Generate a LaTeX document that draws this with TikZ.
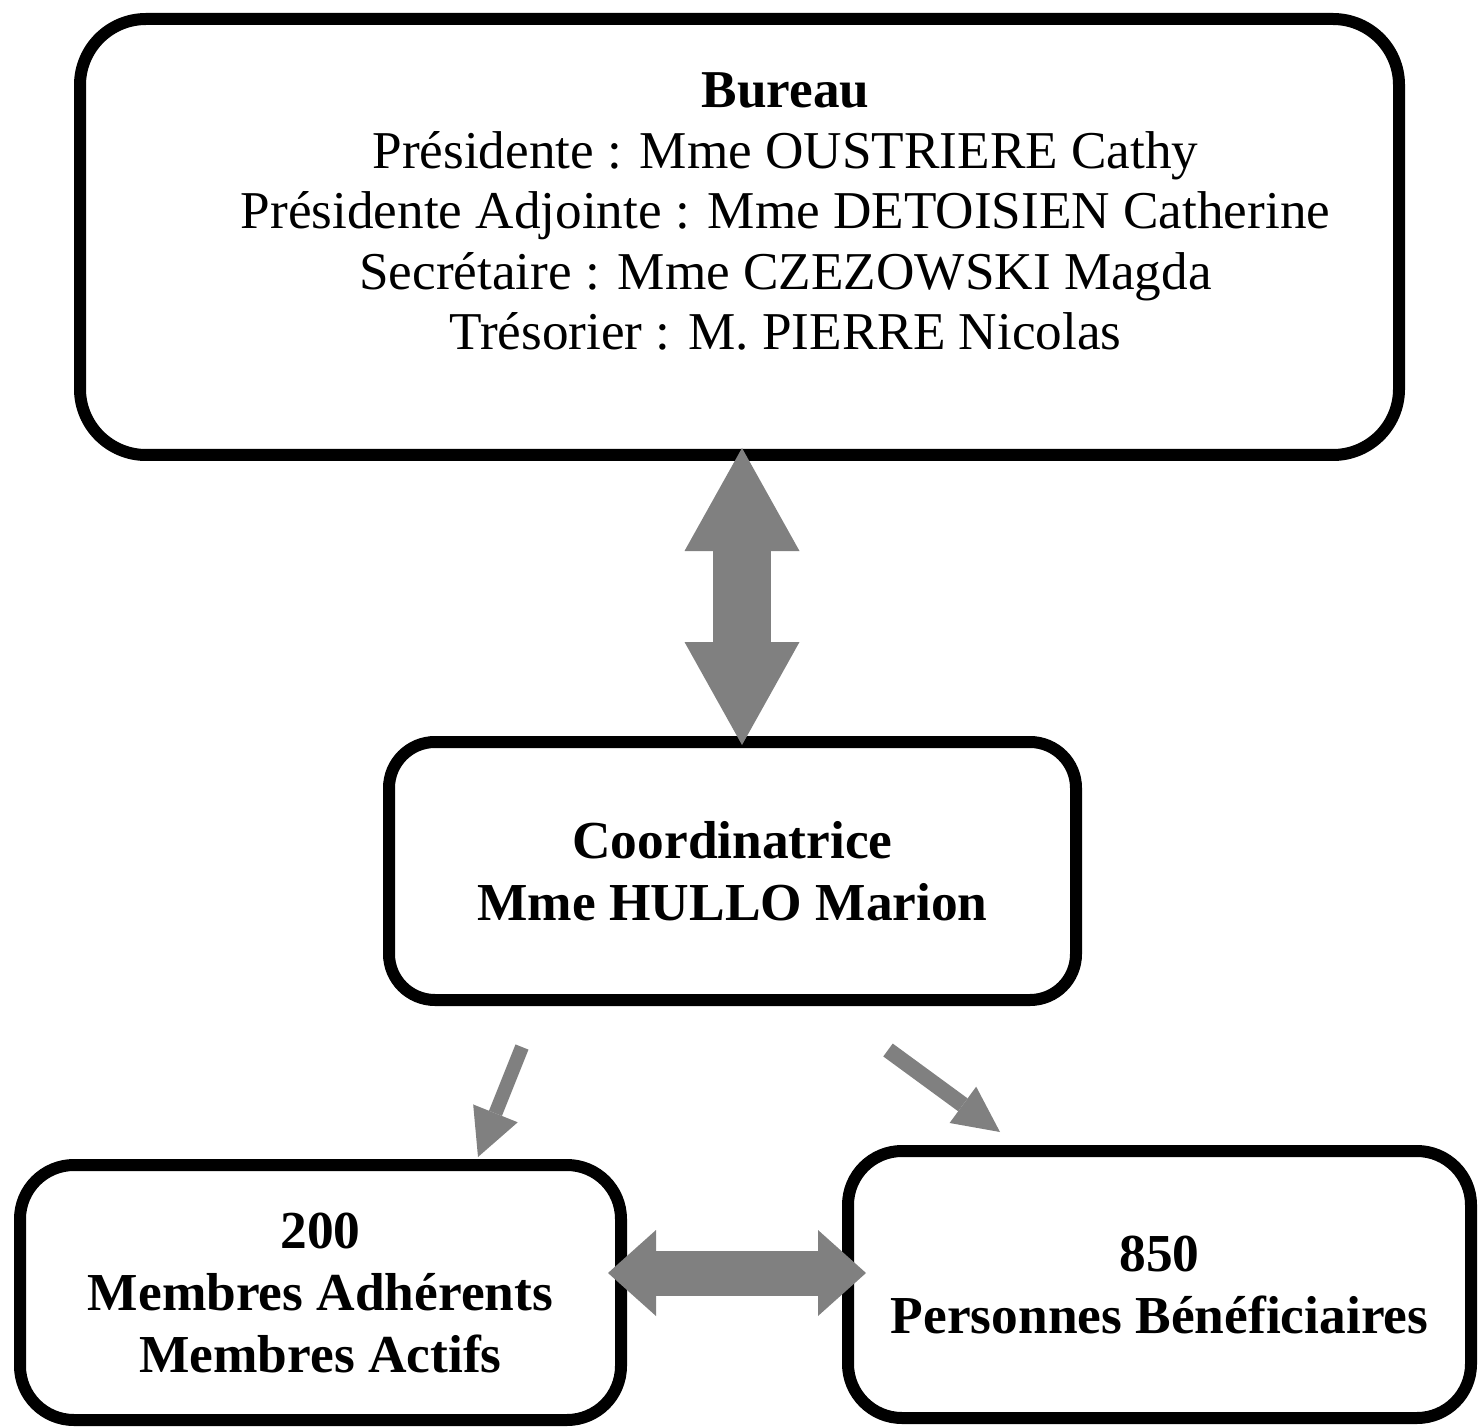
\documentclass[tikz,border=0pt]{standalone}
\usepackage{fontspec}
\setmainfont{Liberation Serif}
\usetikzlibrary{arrows.meta,calc}

\begin{document}
\begin{tikzpicture}[
    x=0.5pt, y=-0.5pt,
    org box/.style={draw=black,line width=6pt,fill=white,inner sep=0pt},
    top text/.style={align=center,font=\fontsize{26.6pt}{30.25pt}\selectfont},
    bold text/.style={align=center,font=\fontsize{26.7pt}{31pt}\selectfont\bfseries},
    big arrow/.style={draw=gray,line width=29pt,{Triangle[length=51.5pt,width=57.5pt,line width=0pt]}-{Triangle[length=51.5pt,width=57.5pt,line width=0pt]}},
    side arrow/.style={draw=gray,line width=22.5pt,{Triangle[length=24pt,width=43pt,line width=0pt]}-{Triangle[length=24pt,width=43pt,line width=0pt]}},
    left arrow/.style={draw=gray,line width=7pt,-{Triangle[length=23.5pt,width=24pt,line width=0pt]}},
    right arrow/.style={draw=gray,line width=8pt,-{Triangle[length=23pt,width=22.5pt,line width=0pt]}}
]
\useasboundingbox (0,0) rectangle (1483,1428);

% Bureau
\node[org box,rounded corners=33pt,minimum width=659.5pt,minimum height=218pt] (bureau) at (739.5,237) {};
\node[top text] (bureaulines) at ([xshift=23pt,yshift=12.75pt]bureau.center)
    {\textbf{Bureau}\\
     Présidente : Mme OUSTRIERE Cathy\\
     Présidente Adjointe : Mme DETOISIEN Catherine\\
     Secrétaire : Mme CZEZOWSKI Magda\\
     Trésorier : M. PIERRE Nicolas};

% Coordinatrice
\node[org box,bold text,rounded corners=23pt,minimum width=343.5pt,minimum height=129pt] (coord) at (732.5,871)
    {Coordinatrice\\ Mme HULLO Marion};

% Adhérents / Bénéficiaires
\node[org box,bold text,rounded corners=27pt,minimum width=300.5pt,minimum height=127.5pt] (adh) at (320.5,1292.5)
    {200\\ Membres Adhérents\\ Membres Actifs};
\node[org box,bold text,rounded corners=27pt,minimum width=311.5pt,minimum height=133.5pt] (benef) at (1159.5,1284.5)
    {850\\ Personnes Bénéficiaires};

% Extrémités des flèches
\coordinate (up) at ($(bureau.south)+(2.5,-13)$);
\coordinate (down) at ($(up |- coord.north)+(0,9)$);
\coordinate (l1) at ($(coord.south)+(-210.5,41)$);
\coordinate (l2) at ($(adh.north)+(157.5,-2)$);
\coordinate (r1) at ($(coord.south)+(155.5,44)$);
\coordinate (r2) at ($(benef.north)+(-159.5,-13)$);
\coordinate (h1) at ($(adh.east)+(-19,-19.5)$);
\coordinate (h2) at ($(benef.west)+(24,-11.5)$);

% Flèches
\draw[big arrow] (up) -- (down);
\draw[left arrow] (l1) -- (l2);
\draw[right arrow] (r1) -- (r2);
\draw[side arrow] (h1) -- (h2);

\end{tikzpicture}
\end{document}
